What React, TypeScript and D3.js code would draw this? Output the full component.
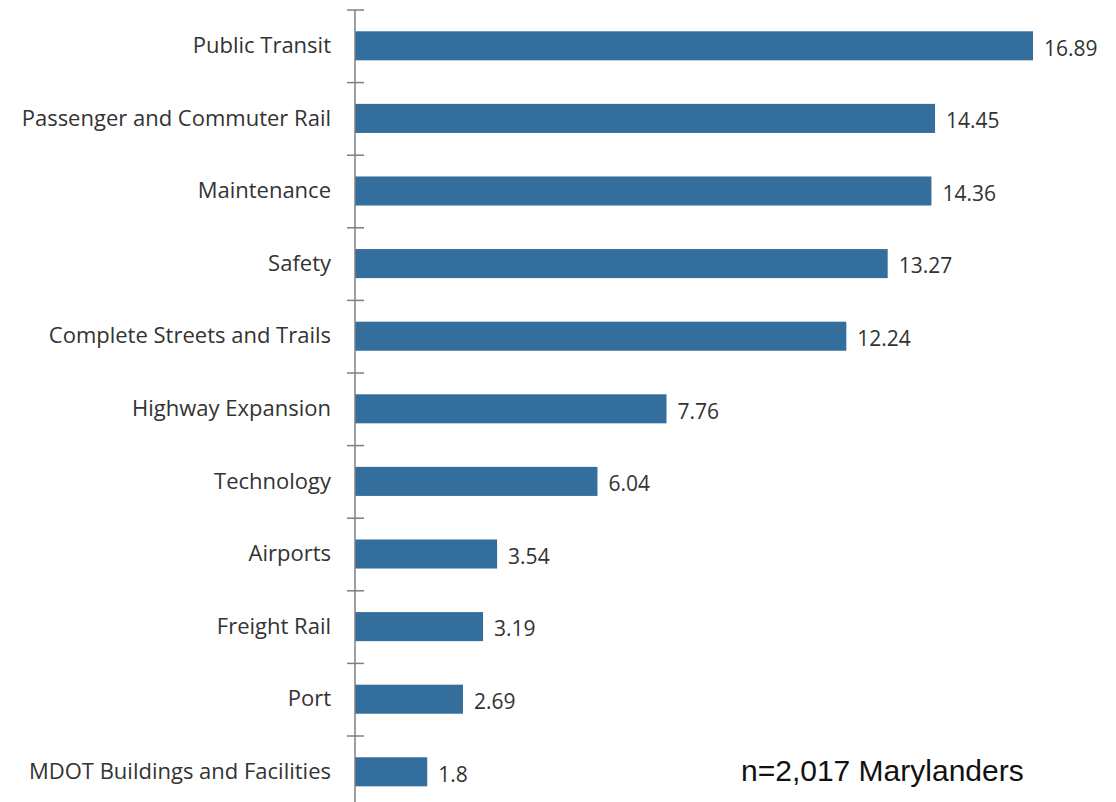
import React, { useRef, useEffect } from "react";
import * as d3 from "d3";

const categories = [
  "Public Transit",
  "Passenger and Commuter Rail",
  "Maintenance",
  "Safety",
  "Complete Streets and Trails",
  "Highway Expansion",
  "Technology",
  "Airports",
  "Freight Rail",
  "Port",
  "MDOT Buildings and Facilities",
];
const values = [16.89, 14.45, 14.36, 13.27, 12.24, 7.76, 6.04, 3.54, 3.19, 2.69, 1.8];
const valueLabels = ["16.89", "14.45", "14.36", "13.27", "12.24", "7.76", "6.04", "3.54", "3.19", "2.69", "1.8"];
const note = "n=2,017 Marylanders";

export default function App() {
  const svgRef = useRef<SVGSVGElement | null>(null);

  useEffect(() => {
    const svg = d3.select(svgRef.current);
    const width = 1116;
    const height = 802;
    const axisX = 355;
    const top = 10;
    const step = 72.6;

    svg.selectAll("*").remove();

    const x = d3.scaleLinear().domain([0, 16.89]).range([axisX, 1033]);

    const y = d3
      .scaleBand()
      .domain(categories)
      .range([top, top + step * categories.length])
      .paddingInner(0.6)
      .paddingOuter(0.3);

    const font = "'Open Sans', sans-serif";

    // bars
    svg
      .append("g")
      .selectAll("rect")
      .data(values)
      .join("rect")
      .attr("x", x(0))
      .attr("y", (_, i) => (y(categories[i]) ?? 0) - 0.5)
      .attr("width", (d) => x(d) - x(0))
      .attr("height", y.bandwidth())
      .attr("fill", "#336e9c");

    // axis line + ticks between categories
    svg
      .append("line")
      .attr("x1", axisX)
      .attr("x2", axisX)
      .attr("y1", top)
      .attr("y2", height)
      .attr("stroke", "#7f7f7f")
      .attr("stroke-width", 1.5);

    const boundaries = d3.range(categories.length + 1).map((i) => top + i * y.step());
    svg
      .append("g")
      .selectAll("line")
      .data(boundaries)
      .join("line")
      .attr("x1", axisX - 8)
      .attr("x2", axisX + 9)
      .attr("y1", (d) => d)
      .attr("y2", (d) => d)
      .attr("stroke", "#7f7f7f")
      .attr("stroke-width", 1.5);

    // category labels
    svg
      .append("g")
      .selectAll("text")
      .data(categories)
      .join("text")
      .attr("x", axisX - 24)
      .attr("y", (d) => (y(d) ?? 0) + y.bandwidth() / 2 - 1)
      .attr("dy", "0.35em")
      .attr("text-anchor", "end")
      .attr("font-family", font)
      .attr("font-size", 22)
      .attr("fill", "#333")
      .text((d) => d);

    // value labels
    svg
      .append("g")
      .selectAll("text")
      .data(values)
      .join("text")
      .attr("x", (d) => x(d) + 11)
      .attr("y", (_, i) => (y(categories[i]) ?? 0) + y.bandwidth() / 2 + 2)
      .attr("dy", "0.35em")
      .attr("font-family", font)
      .attr("font-size", 21)
      .attr("fill", "#333")
      .text((_, i) => valueLabels[i]);

    svg
      .append("text")
      .attr("x", 741)
      .attr("y", 781)
      .attr("font-family", "'Liberation Sans', Arial, sans-serif")
      .attr("font-size", 30)
      .attr("fill", "#111")
      .text(note);

    svg.attr("width", width).attr("height", height);
  }, []);

  return (
    <svg
      ref={svgRef}
      width={1116}
      height={802}
      style={{ position: "absolute", left: 0, top: 0, background: "#fff" }}
    />
  );
}
